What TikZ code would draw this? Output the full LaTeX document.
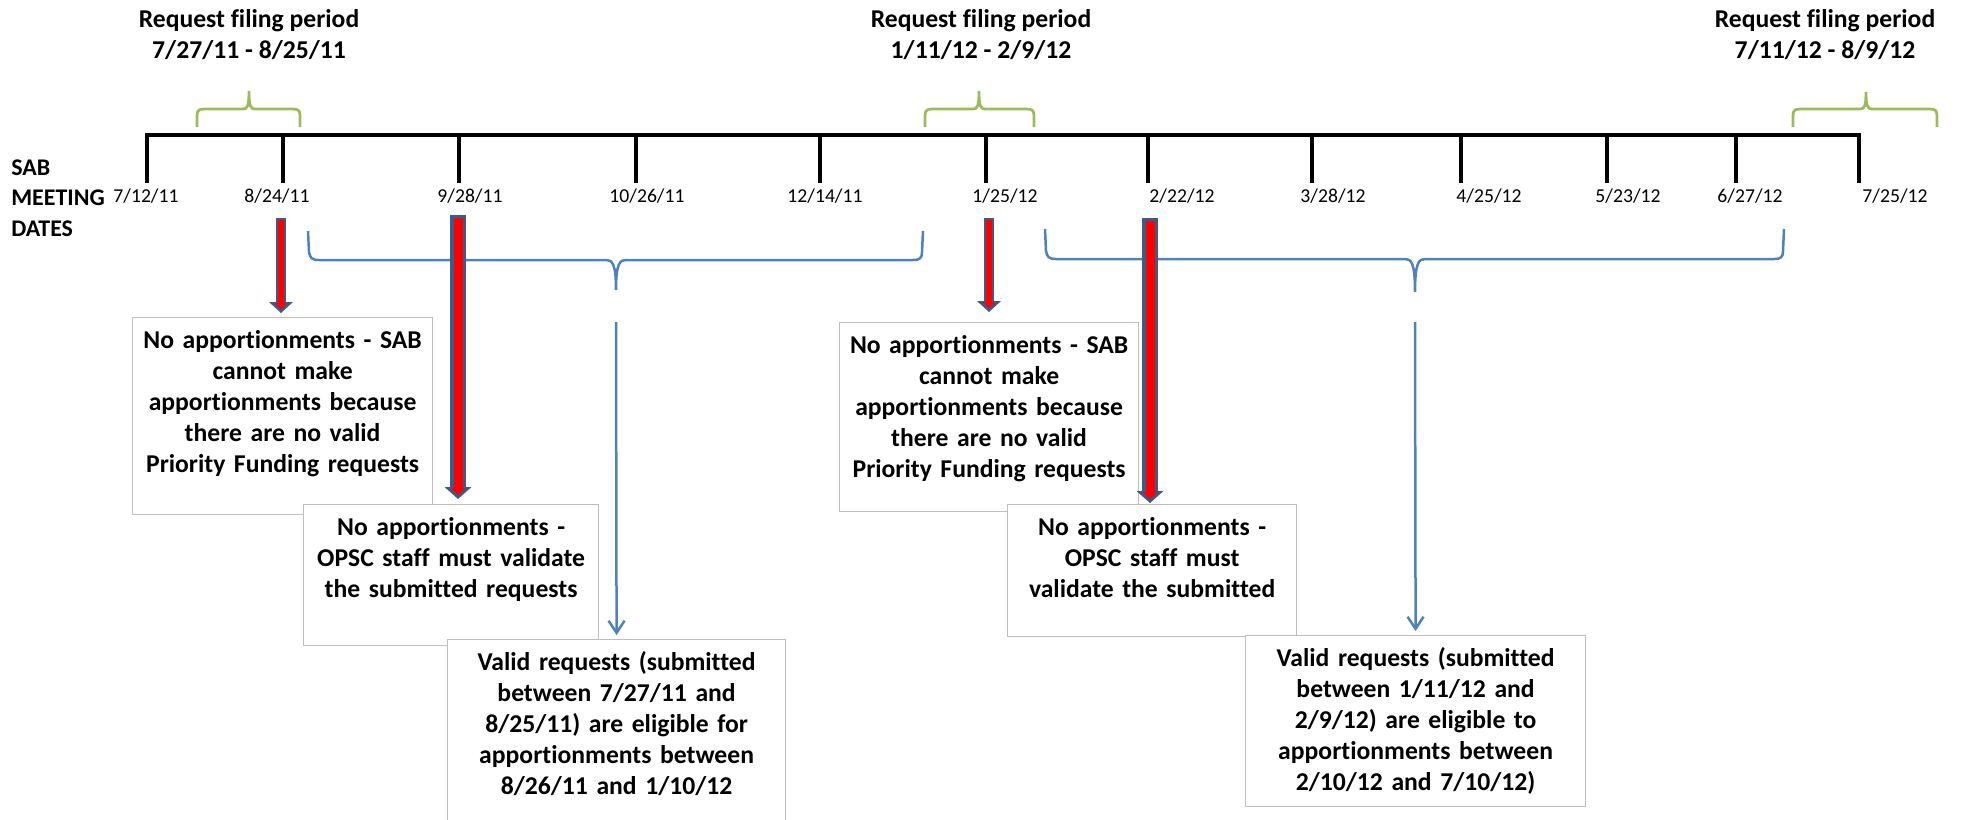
\documentclass[tikz,border=0pt]{standalone}
\usepackage{fontspec}
\setmainfont{Carlito}[Ligatures=NoCommon]
\usetikzlibrary{arrows.meta}

\definecolor{briefblue}{RGB}{79,129,189}
\definecolor{periodgreen}{RGB}{155,187,89}
\definecolor{arrowedge}{RGB}{56,93,138}
\definecolor{boxgray}{RGB}{190,190,190}

\begin{document}
\begin{tikzpicture}[x=0.02cm,y=-0.02cm,
    tline/.style={line width=0.065cm},
    datelbl/.style={font=\fontsize{11.2}{13}\selectfont, inner sep=0pt, anchor=base},
    heading/.style={font=\bfseries\fontsize{14.6}{17.6}\selectfont, align=center, inner sep=0pt},
    infobox/.style={draw=boxgray, line width=0.025cm, fill=white, font=\bfseries\fontsize{14.6}{17.6}\selectfont,
        align=center, anchor=north west, inner xsep=0.1cm, inner ysep=0pt, text height=0.62cm},
    gbrace/.style={draw=periodgreen, line width=0.055cm},
    bbrace/.style={draw=briefblue, line width=0.05cm},
    blink/.style={draw=briefblue, line width=0.05cm, shorten >=0.08cm, -{Straight Barb[length=0.24cm,width=0.32cm]}},
    redbig/.style={draw=arrowedge, line width=0.32cm, shorten >=#1, -{Triangle[length=0.24cm,width=0.54cm,line width=0pt]}},
    redbigin/.style={draw=red, line width=0.18cm, shorten <=0.05cm, shorten >=#1+0.08cm, -{Triangle[length=0.14cm,width=0.3cm,line width=0pt]}},
    redsmall/.style={draw=arrowedge, line width=0.2cm, shorten >=#1, -{Triangle[length=0.22cm,width=0.48cm,line width=0pt]}},
    redsmallin/.style={draw=red, line width=0.11cm, shorten <=0.04cm, shorten >=#1+0.08cm, -{Triangle[length=0.12cm,width=0.26cm,line width=0pt]}}]
    \useasboundingbox (0,0) rectangle (1961,819);
    %\draw[very thin,color=gray] (0,0) grid[step=100] (1961,819);

    % timeline
    \draw[tline] (147,183) -- (147,135) -- (1859,135) -- (1859,183);
    \draw[tline] (283,135) -- (283,183) (459,135) -- (459,183) (636,135) -- (636,183) (820,135) -- (820,183)
        (986,135) -- (986,183) (1148,135) -- (1148,183) (1312,135) -- (1312,183) (1461,135) -- (1461,183)
        (1607,135) -- (1607,183) (1736,135) -- (1736,183);

    \node[heading, font=\bfseries\fontsize{13.6}{17.4}\selectfont, anchor=west, align=left] (sab) at (11,198) {SAB\\MEETING\\DATES};
    \node[datelbl] (d1) at (146,202) {7/12/11};
    \node[datelbl] (d2) at (277,202) {8/24/11};
    \node[datelbl] (d3) at (470,202) {9/28/11};
    \node[datelbl] (d4) at (647,202) {10/26/11};
    \node[datelbl] (d5) at (825,202) {12/14/11};
    \node[datelbl] (d6) at (1005,202) {1/25/12};
    \node[datelbl] (d7) at (1182,202) {2/22/12};
    \node[datelbl] (d8) at (1333,202) {3/28/12};
    \node[datelbl] (d9) at (1489,202) {4/25/12};
    \node[datelbl] (d10) at (1628,202) {5/23/12};
    \node[datelbl] (d11) at (1750,202) {6/27/12};
    \node[datelbl] (d12) at (1895,202) {7/25/12};

    % filing periods
    \node[heading] (p1) at (249,34.5) {Request filing period\\7/27/11 - 8/25/11};
    \node[heading] (p2) at (981,34.5) {Request filing period\\1/11/12 - 2/9/12};
    \node[heading] (p3) at (1825,34.5) {Request filing period\\7/11/12 - 8/9/12};
    \draw[gbrace] (197,127) -- (197,116) .. controls (197,110) and (199,109) .. (205,109) -- (243,109)
        .. controls (247,109) and (249,107) .. (249,91) .. controls (249,107) and (251,109) .. (255,109)
        -- (292,109) .. controls (298,109) and (300,110) .. (300,116) -- (300,127);
    \draw[gbrace] (925,127) -- (925,116) .. controls (925,110) and (927,109) .. (933,109) -- (973,109)
        .. controls (977,109) and (979,107) .. (979,91) .. controls (979,107) and (981,109) .. (985,109)
        -- (1026,109) .. controls (1032,109) and (1034,110) .. (1034,116) -- (1034,127);
    \draw[gbrace] (1793,127) -- (1793,116) .. controls (1793,110) and (1795,109) .. (1801,109) -- (1860,109)
        .. controls (1864,109) and (1866,107) .. (1866,92) .. controls (1866,107) and (1868,109) .. (1872,109)
        -- (1929,109) .. controls (1935,109) and (1937,110) .. (1937,116) -- (1937,127);

    % apportionment windows
    \draw[bbrace] (308,231) -- (309,252) .. controls (310,258) and (312,260) .. (319,260) -- (606,260)
        .. controls (612,260) and (616,263) .. (616,290) .. controls (616,263) and (620,260) .. (626,260)
        -- (913,260) .. controls (920,260) and (922,258) .. (922,252) -- (923,231);
    \draw[bbrace] (1045,229) -- (1046,251) .. controls (1047,257) and (1049,259) .. (1056,259) -- (1405,259)
        .. controls (1411,259) and (1415,262) .. (1415,292) .. controls (1415,262) and (1419,259) .. (1425,259)
        -- (1774,259) .. controls (1781,259) and (1783,257) .. (1783,251) -- (1784,229);

    \node[infobox, text width=5.8cm, text depth=3.32cm] (n1) at (132,317)
        {No apportionments - SAB\\cannot make\\apportionments because\\there are no valid\\Priority Funding requests};
    \node[infobox, text width=5.7cm, text depth=2.2cm] (n2) at (303,504)
        {No apportionments -\\OPSC staff must validate\\the submitted requests};
    \node[infobox, text width=6.56cm, text depth=3.4cm] (n3) at (447,639)
        {Valid requests (submitted\\between 7/27/11 and\\8/25/11) are eligible for\\apportionments between\\8/26/11 and 1/10/12};
    \node[infobox, text width=5.78cm, text depth=3.16cm] (n4) at (839,322)
        {No apportionments - SAB\\cannot make\\apportionments because\\there are no valid\\Priority Funding requests};
    \node[infobox, text width=5.58cm, text depth=2.02cm] (n5) at (1007,504)
        {No apportionments -\\OPSC staff must\\validate the submitted};
    \node[infobox, text width=6.6cm, text depth=2.8cm] (n6) at (1245,635)
        {Valid requests (submitted\\between 1/11/12 and\\2/9/12) are eligible to\\apportionments between\\2/10/12 and 7/10/12)};

    \coordinate (a1) at (281,218);
    \coordinate (a2) at (458,215);
    \coordinate (a3) at (989,218);
    \coordinate (a4) at (1150,218);
    \coordinate (s1) at (616,322);
    \coordinate (s2) at (1415,322);

    \draw[redsmall=0.08cm] (a1) -- (a1 |- n1.north);
    \draw[redsmallin=0.08cm] (a1) -- (a1 |- n1.north);
    \draw[redbig=0.1cm] (a2) -- (a2 |- n2.north);
    \draw[redbigin=0.1cm] (a2) -- (a2 |- n2.north);
    \draw[redsmall=0.2cm] (a3) -- (a3 |- n4.north);
    \draw[redsmallin=0.2cm] (a3) -- (a3 |- n4.north);
    \draw[redbig=0.02cm] (a4) -- (a4 |- n5.north);
    \draw[redbigin=0.02cm] (a4) -- (a4 |- n5.north);

    \draw[blink] (s1) -- (n3.north);
    \draw[blink] (s2) -- (n6.north);

\end{tikzpicture}
\end{document}
